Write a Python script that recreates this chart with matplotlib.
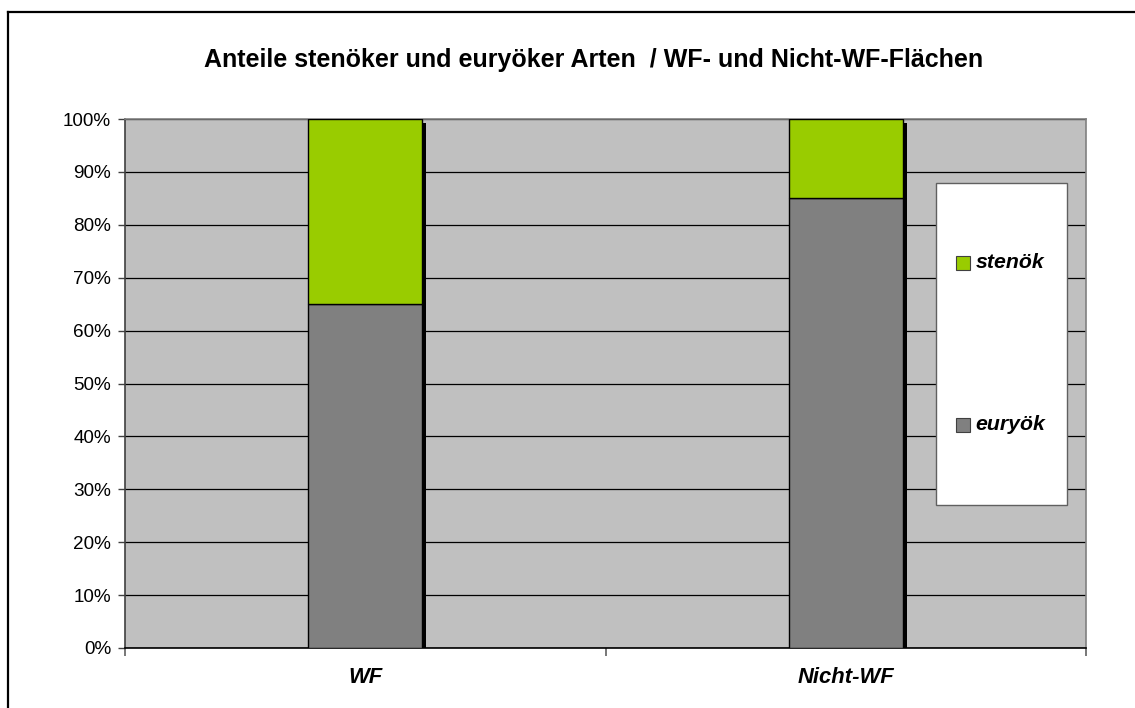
import matplotlib
matplotlib.use("Agg")
import matplotlib.pyplot as plt
from matplotlib.patches import Rectangle
from matplotlib.transforms import offset_copy
import numpy as np

plt.rcParams['font.family'] = ['Liberation Sans', 'DejaVu Sans']

# Data (shares in percent)
categories = ["WF", "Nicht-WF"]
euryoek = [65, 85]
stenoek = [35, 15]
series_labels = ["stenök", "euryök"]
yticks = list(range(0, 101, 10))
title = "Anteile stenöker und euryöker Arten  / WF- und Nicht-WF-Flächen"

col_steno = "#99CC00"
col_eury = "#808080"
plot_bg = "#C0C0C0"

W, H = 1135, 708
fig = plt.figure(figsize=(W / 100, H / 100), dpi=100)
fig.patch.set_facecolor("white")

# outer chart frame (open at right and bottom edges)
fig.add_artist(plt.Line2D([8 / W, 8 / W], [0, 1 - 12 / H], transform=fig.transFigure,
                          color="black", lw=1.6))
fig.add_artist(plt.Line2D([8 / W, 1], [1 - 12 / H, 1 - 12 / H], transform=fig.transFigure,
                          color="black", lw=1.6))

ax = fig.add_axes([125 / W, 60 / H, 961 / W, 529 / H])
ax.set_facecolor(plot_bg)

x = np.arange(len(categories))
width = 0.237
totals = np.array(euryoek) + np.array(stenoek)

# drop shadows behind the stacked columns
shadow_tr = offset_copy(ax.transData, fig=fig, x=4, y=-4, units="dots")
ax.bar(x, totals, width, color="black", edgecolor="none", transform=shadow_tr, zorder=2)

ax.bar(x, euryoek, width, color=col_eury, edgecolor="black", lw=1.0, zorder=3)
ax.bar(x, stenoek, width, bottom=euryoek, color=col_steno, edgecolor="black", lw=1.0, zorder=3)

ax.set_xlim(-0.5, len(categories) - 0.5)
ax.set_ylim(0, 100)

ax.set_yticks(yticks)
ax.set_yticklabels([f"{v}%" for v in yticks], fontsize=13.6)
ax.yaxis.grid(True, color="black", lw=0.9)
ax.set_axisbelow(True)

ax.set_xticks(x)
ax.set_xticklabels(categories, fontsize=15.8, fontweight="bold", fontstyle="italic")
ax.tick_params(axis="x", length=0, pad=14)
ax.tick_params(axis="y", length=5, width=1, color="#404040", pad=5)
# tick marks separating categories
ax.set_xticks(np.arange(-0.5, len(categories)), minor=True)
ax.tick_params(axis="x", which="minor", length=6, width=1.2, color="#606060")

ax.spines["top"].set_color("#808080")
ax.spines["right"].set_color("#808080")
ax.spines["left"].set_color("#404040")
ax.spines["bottom"].set_color("black")
for s in ax.spines.values():
    s.set_linewidth(1.2)

# legend box
ax.add_patch(Rectangle((0.844, 0.270), 0.136, 0.609, transform=ax.transAxes,
                       facecolor="white", edgecolor="#606060", lw=1.0, zorder=5))
for lab, col, yy in [(series_labels[0], col_steno, 0.728), (series_labels[1], col_eury, 0.4216)]:
    ax.add_patch(Rectangle((0.865, yy - 7 / 529), 14 / 961, 14 / 529, transform=ax.transAxes,
                           facecolor=col, edgecolor="#404040", lw=0.8, zorder=6))
    ax.text(0.885, yy, lab, transform=ax.transAxes, fontsize=15.3, fontweight="bold",
            fontstyle="italic", va="center", ha="left", zorder=7)

fig.text(594 / W, 1 - 60 / H, title, ha="center", va="center", fontsize=18, fontweight="bold")

fig.savefig("out.png", dpi=100, facecolor="white")
